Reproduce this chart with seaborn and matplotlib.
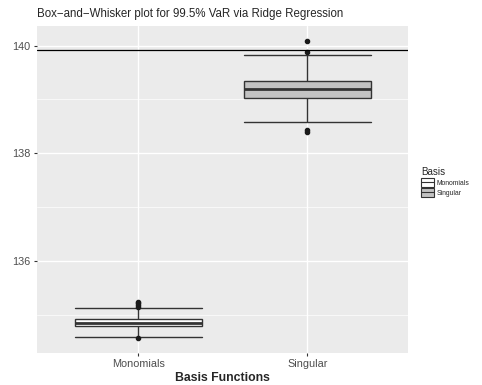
import matplotlib
matplotlib.use("Agg")
import matplotlib.pyplot as plt
from matplotlib.patches import Patch
from matplotlib.lines import Line2D
from matplotlib.ticker import FixedLocator
import seaborn as sns
import pandas as pd

# values (sample consistent with the drawn boxes)
monomials = [134.565, 134.59, 134.68, 134.73, 134.76, 134.785,
             134.80, 134.815, 134.83, 134.845, 134.855,
             134.87, 134.885, 134.90, 134.915, 134.925,
             135.13, 135.15, 135.18, 135.21, 135.235]
singular = [138.40, 138.43, 138.59, 139.02, 139.08, 139.14, 139.20,
            139.26, 139.31, 139.35, 139.82, 139.88, 140.09]
basis_names = ["Monomials", "Singular"]
fills = {"Monomials": "white", "Singular": "#C2C2C2"}
ref_line = 139.925

df = pd.DataFrame({
    "Basis": ["Monomials"] * len(monomials) + ["Singular"] * len(singular),
    "VaR": monomials + singular,
})

sns.set_theme(style="darkgrid", rc={"axes.facecolor": "#EBEBEB",
                                    "grid.color": "white"})
plt.rcParams['font.family'] = ['Liberation Sans', 'DejaVu Sans']

fig, ax = plt.subplots(figsize=(4.82, 3.85), dpi=100)
fig.subplots_adjust(left=37 / 482, right=408.5 / 482,
                    top=1 - 25.7 / 385, bottom=1 - 353 / 385)

sns.boxplot(data=df, x="Basis", y="VaR", hue="Basis", order=basis_names,
            palette=fills, saturation=1, width=0.75, linecolor="#333333",
            linewidth=1.0, capwidths=0.75, whis=1.5, legend=False,
            medianprops=dict(linewidth=2.0),
            flierprops=dict(marker="o", markerfacecolor="#1a1a1a",
                            markeredgecolor="#1a1a1a", markersize=3),
            ax=ax)

ax.axhline(ref_line, color="black", lw=0.9)

ax.set_xlim(-0.6, 1.6)
ax.set_ylim(134.29, 140.37)
ax.set_yticks([136, 138, 140])
ax.yaxis.set_minor_locator(FixedLocator([135, 137, 139]))
ax.grid(which="major", color="white", lw=1.0)
ax.grid(which="minor", color="white", lw=0.5)
ax.set_axisbelow(True)
for s in ax.spines.values():
    s.set_visible(False)

ax.tick_params(which="major", bottom=True, left=True, length=2.5, width=0.8,
               color="#333333", labelcolor="#4D4D4D", labelsize=7.8, pad=2)
ax.tick_params(which="minor", length=0)

ax.set_title("Box\u2212and\u2212Whisker plot for 99.5% VaR via Ridge Regression",
             loc="left", fontsize=8.3, pad=6)
ax.set_xlabel("Basis Functions", fontsize=8.85, fontweight="bold", labelpad=2)
ax.set_ylabel("")

handles = [(Patch(facecolor=fills[b], edgecolor="#333333", lw=0.8),
            Line2D([], [], color="#333333", lw=0.8)) for b in basis_names]
leg = ax.legend(handles, basis_names, title="Basis", loc="upper left",
                bbox_to_anchor=(421 / 482, 1 - 167 / 385),
                bbox_transform=fig.transFigure, frameon=False,
                fontsize=4.9, title_fontsize=7.1, borderaxespad=0,
                borderpad=0, handlelength=1.9, handleheight=1.6,
                labelspacing=0.2, handletextpad=0.45, alignment="left")

fig.savefig("out.png", dpi=100)
